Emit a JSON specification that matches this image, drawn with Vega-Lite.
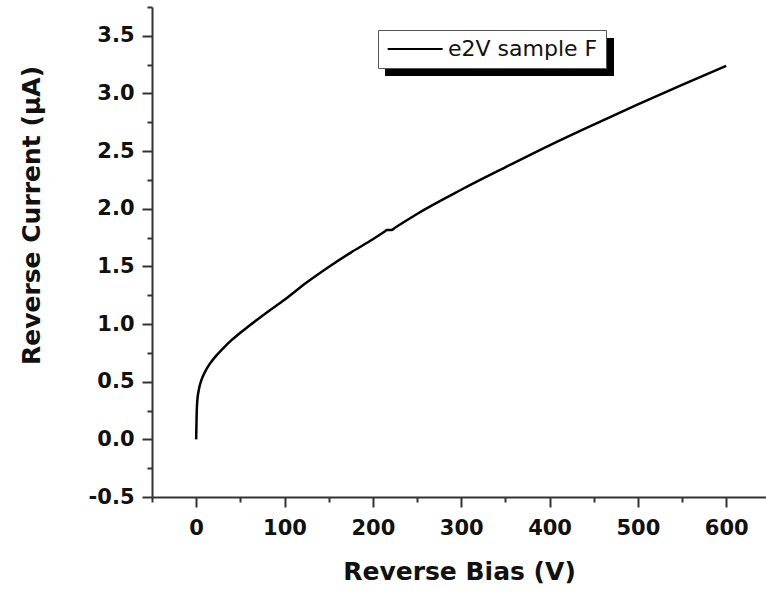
{
  "$schema": "https://vega.github.io/schema/vega-lite/v6.json",
  "width": 614,
  "height": 490,
  "autosize": {"type": "none"},
  "padding": {"left": 152, "top": 7, "right": 0, "bottom": 94},
  "background": "white",
  "config": {
    "view": {"stroke": null},
    "axis": {"grid": false}
  },
  "data": {
    "values": [
      {"bias": 0, "current": 0, "series": "e2V sample F"},
      {"bias": 0.5, "current": 0.2, "series": "e2V sample F"},
      {"bias": 1.2, "current": 0.33, "series": "e2V sample F"},
      {"bias": 3, "current": 0.43, "series": "e2V sample F"},
      {"bias": 6, "current": 0.515, "series": "e2V sample F"},
      {"bias": 10, "current": 0.585, "series": "e2V sample F"},
      {"bias": 15, "current": 0.65, "series": "e2V sample F"},
      {"bias": 22, "current": 0.72, "series": "e2V sample F"},
      {"bias": 30, "current": 0.785, "series": "e2V sample F"},
      {"bias": 40, "current": 0.86, "series": "e2V sample F"},
      {"bias": 50, "current": 0.925, "series": "e2V sample F"},
      {"bias": 60, "current": 0.985, "series": "e2V sample F"},
      {"bias": 80, "current": 1.1, "series": "e2V sample F"},
      {"bias": 100, "current": 1.21, "series": "e2V sample F"},
      {"bias": 125, "current": 1.36, "series": "e2V sample F"},
      {"bias": 150, "current": 1.495, "series": "e2V sample F"},
      {"bias": 175, "current": 1.62, "series": "e2V sample F"},
      {"bias": 200, "current": 1.735, "series": "e2V sample F"},
      {"bias": 213, "current": 1.8, "series": "e2V sample F"},
      {"bias": 216, "current": 1.815, "series": "e2V sample F"},
      {"bias": 221, "current": 1.815, "series": "e2V sample F"},
      {"bias": 225, "current": 1.835, "series": "e2V sample F"},
      {"bias": 250, "current": 1.955, "series": "e2V sample F"},
      {"bias": 300, "current": 2.165, "series": "e2V sample F"},
      {"bias": 350, "current": 2.36, "series": "e2V sample F"},
      {"bias": 400, "current": 2.55, "series": "e2V sample F"},
      {"bias": 450, "current": 2.73, "series": "e2V sample F"},
      {"bias": 500, "current": 2.905, "series": "e2V sample F"},
      {"bias": 550, "current": 3.075, "series": "e2V sample F"},
      {"bias": 600, "current": 3.24, "series": "e2V sample F"}
    ]
  },
  "layer": [
    {
      "mark": {"type": "rect", "color": "black"},
      "encoding": {
        "x": {
          "datum": 214.5,
          "type": "quantitative",
          "scale": {"domain": [-50, 645], "nice": false, "zero": false},
          "axis": {
            "orient": "bottom",
            "values": [-50, 50, 150, 250, 350, 450, 550],
            "labels": false, "domain": false, "title": null,
            "tickSize": 5, "tickWidth": 2, "tickColor": "#333"
          }
        },
        "x2": {"datum": 472},
        "y": {
          "datum": 3.478,
          "type": "quantitative",
          "scale": {"domain": [-0.5, 3.75], "nice": false, "zero": false},
          "axis": {
            "orient": "left",
            "values": [-0.25, 0.25, 0.75, 1.25, 1.75, 2.25, 2.75, 3.25, 3.75],
            "labels": false, "domain": false, "title": null,
            "tickSize": 5, "tickWidth": 2, "tickColor": "#333"
          }
        },
        "y2": {"datum": 3.155}
      }
    },
    {
      "mark": {"type": "line", "strokeWidth": 2.5, "interpolate": "monotone"},
      "encoding": {
        "x": {
          "field": "bias",
          "type": "quantitative",
          "scale": {"domain": [-50, 645], "nice": false, "zero": false},
          "axis": {
            "orient": "bottom",
            "values": [0, 100, 200, 300, 400, 500, 600],
            "title": "Reverse Bias (V)",
            "domainColor": "#333", "domainWidth": 2,
            "tickColor": "#333", "tickWidth": 2, "tickSize": 10,
            "labelFont": "DejaVu Sans", "labelFontWeight": "bold", "labelFontSize": 21,
            "labelColor": "#111", "labelPadding": 10,
            "titleFont": "DejaVu Sans", "titleFontWeight": "bold", "titleFontSize": 25,
            "titleColor": "#111", "titleBaseline": "alphabetic", "titleY": 82
          }
        },
        "y": {
          "field": "current",
          "type": "quantitative",
          "scale": {"domain": [-0.5, 3.75], "nice": false, "zero": false},
          "axis": {
            "orient": "left",
            "values": [-0.5, 0, 0.5, 1, 1.5, 2, 2.5, 3, 3.5],
            "labelExpr": "datum.value < 0 ? '-' + format(-datum.value, '.1f') : format(datum.value, '.1f')",
            "title": "Reverse Current (µA)",
            "domainColor": "#333", "domainWidth": 2,
            "tickColor": "#333", "tickWidth": 2, "tickSize": 10,
            "labelFont": "DejaVu Sans", "labelFontWeight": "bold", "labelFontSize": 21,
            "labelColor": "#111", "labelPadding": 8,
            "titleFont": "DejaVu Sans", "titleFontWeight": "bold", "titleFontSize": 25,
            "titleColor": "#111", "titleBaseline": "middle", "titleX": -121, "titleY": 208
          }
        },
        "color": {
          "field": "series",
          "type": "nominal",
          "scale": {"range": ["black"]},
          "legend": {
            "title": null,
            "orient": "none",
            "legendX": 226,
            "legendY": 23,
            "padding": 8,
            "fillColor": "white",
            "strokeColor": "#555",
            "symbolType": "M-1.7,0H8.3",
            "symbolSize": 121,
            "symbolStrokeWidth": 2,
            "symbolStrokeColor": "black",
            "labelOffset": 40,
            "labelFont": "DejaVu Sans",
            "labelFontSize": 22,
            "labelColor": "#111"
          }
        }
      }
    }
  ],
  "resolve": {"axis": {"x": "independent", "y": "independent"}}
}
